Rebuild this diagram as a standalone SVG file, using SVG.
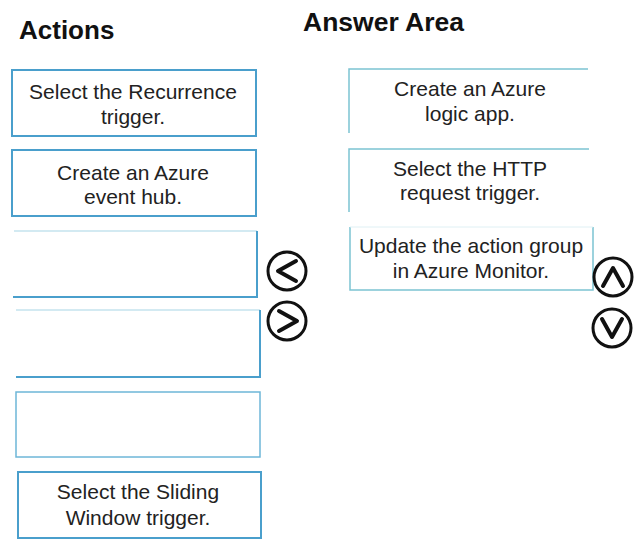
<svg xmlns="http://www.w3.org/2000/svg" width="640" height="547" viewBox="0 0 640 547">
<style>
.h{font-family:"Liberation Sans",Arial,sans-serif;font-weight:bold;font-size:26px;fill:#111}
.t{font-family:"Liberation Sans",Arial,sans-serif;font-size:21px;fill:#222;text-anchor:middle}
.lb{fill:#fff;stroke:#4a9fcc;stroke-width:2}
.rb{fill:none;stroke:#7cc3d2;stroke-width:1.5}
.c{fill:#fff;stroke:#111;stroke-width:3}
.ch{fill:none;stroke:#111;stroke-width:4;stroke-linecap:round;stroke-linejoin:round}
</style>
<rect width="640" height="547" fill="#fff"/>
<text class="h" x="19" y="39">Actions</text>
<text class="h" x="303" y="31" style="font-size:26.5px">Answer Area</text>

<g id="action-recurrence">
<rect class="lb" x="12" y="70" width="244" height="66"/>
<text class="t" x="133" y="99">Select the Recurrence</text>
<text class="t" x="133" y="124">trigger.</text>
</g>
<g id="action-eventhub">
<rect class="lb" x="12" y="150" width="244" height="66"/>
<text class="t" x="133" y="180">Create an Azure</text>
<text class="t" x="133" y="204">event hub.</text>
</g>
<g id="action-empty1">
<path d="M14 231H257" stroke="#a8d6e6" stroke-width="1.2" fill="none"/>
<path d="M257 231V297H13" stroke="#4a9fcc" stroke-width="2" fill="none"/>
</g>
<g id="action-empty2">
<path d="M16 310H260" stroke="#a8d6e6" stroke-width="1.2" fill="none"/>
<path d="M260 310V377H16" stroke="#4a9fcc" stroke-width="2" fill="none"/>
</g>
<g id="action-empty3">
<rect x="16" y="392" width="244" height="65" fill="none" stroke="#6eb6d8" stroke-width="1.5"/>
</g>
<g id="action-sliding">
<rect class="lb" x="18" y="472" width="243" height="66"/>
<text class="t" x="138" y="499">Select the Sliding</text>
<text class="t" x="138" y="525">Window trigger.</text>
</g>

<g id="answer-logicapp">
<path class="rb" d="M349 133V69H588"/>
<text class="t" x="470" y="96">Create an Azure</text>
<text class="t" x="470" y="121">logic app.</text>
</g>
<g id="answer-http">
<path class="rb" d="M349 212V149H589"/>
<text class="t" x="470" y="176">Select the HTTP</text>
<text class="t" x="470" y="200">request trigger.</text>
</g>
<g id="answer-actiongroup">
<path class="rb" d="M350 227V290H593V227"/>
<path d="M350 227H593" stroke="#dff0f4" stroke-width="1" fill="none"/>
<text class="t" x="471" y="253">Update the action group</text>
<text class="t" x="471" y="278">in Azure Monitor.</text>
</g>

<g id="btn-left">
<circle class="c" cx="287" cy="271" r="19"/>
<path class="ch" d="M296 261L278 271L296 281"/>
</g>
<g id="btn-right">
<circle class="c" cx="287" cy="321" r="19"/>
<path class="ch" d="M279 311L297 321L279 331"/>
</g>
<g id="btn-up">
<circle class="c" cx="613" cy="277" r="19"/>
<path class="ch" d="M603 286L613 268L623 286"/>
</g>
<g id="btn-down">
<circle class="c" cx="612" cy="328" r="19"/>
<path class="ch" d="M602 319L612 337L622 319"/>
</g>
<g id="connectors"/>
</svg>
